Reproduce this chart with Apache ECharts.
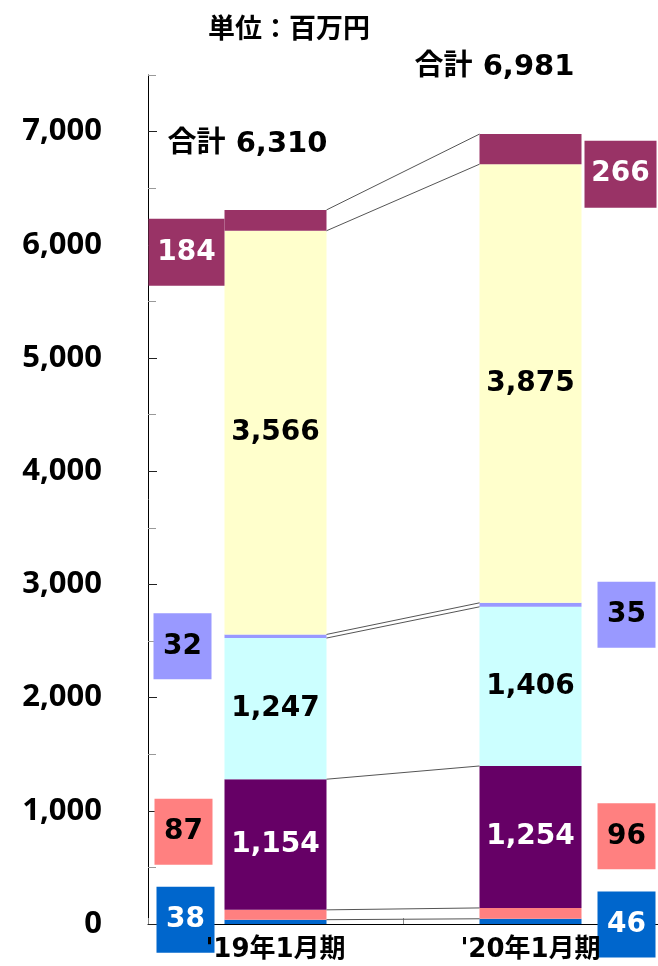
<!DOCTYPE html>
<html>
<head>
<meta charset="utf-8">
<script src="https://cdn.jsdelivr.net/npm/echarts@6/dist/echarts.min.js"></script>
<style>
html,body{margin:0;padding:0;background:#fff;}
#chart{width:658px;height:966px;}
</style>
</head>
<body>
<div id="chart"></div>
<script>
// ---- data ----
const categories = ["'19年1月期", "'20年1月期"];
const valBlue     = [38, 46];
const valSalmon   = [87, 96];
const valPurple   = [1154, 1254];
const valCyan     = [1247, 1406];
const valLavender = [32, 35];
const valYellow   = [3566, 3875];
const valMaroon   = [184, 266];
const totals      = [6310, 6981];
const unitText = '単位：百万円';
const totalPrefix = '合計 ';

// ---- styles ----
const FONT = '"DejaVu Sans", "Noto Sans CJK JP", sans-serif';
const AXFONT = '"Noto Sans", "Noto Sans CJK JP", sans-serif';
const FS = 28;
const fmt = v => v.toLocaleString('en-US');

const segments = [
  {name:'A', vals: valBlue,     color:'#0066CC', text:'#ffffff', inside:false,
   boxes:[{w:58,h:66,off:[-90,-2]}, {w:58,h:66,off:[96,3]}]},
  {name:'B', vals: valSalmon,   color:'#FF8080', text:'#000000', inside:false,
   boxes:[{w:58,h:66,off:[-92,-83]}, {w:58,h:66,off:[96,-77]}]},
  {name:'C', vals: valPurple,   color:'#660066', text:'#ffffff', inside:true},
  {name:'D', vals: valCyan,     color:'#CCFFFF', text:'#000000', inside:true},
  {name:'E', vals: valLavender, color:'#9999FF', text:'#000000', inside:false,
   boxes:[{w:58,h:66,off:[-93,10]}, {w:58,h:66,off:[96,10]}]},
  {name:'F', vals: valYellow,   color:'#FFFFCC', text:'#000000', inside:true},
  {name:'G', vals: valMaroon,   color:'#993366', text:'#ffffff', inside:false,
   boxes:[{w:76,h:67,off:[-89,32]}, {w:72,h:67,off:[90,25]}]}
];

const barSeries = segments.map(seg => ({
  name: seg.name,
  type: 'bar',
  stack: 'total',
  barWidth: 102,
  xAxisIndex: 0, yAxisIndex: 0,
  itemStyle: {color: seg.color},
  z: 2,
  data: seg.vals.map((v, i) => {
    const base = {
      show: true,
      position: 'inside',
      formatter: () => fmt(v),
      color: seg.text,
      fontFamily: FONT,
      fontWeight: 'bold',
      fontSize: FS
    };
    if (!seg.inside) {
      const b = seg.boxes[i];
      Object.assign(base, {
        backgroundColor: seg.color,
        width: b.w, height: b.h, lineHeight: b.h,
        align: 'center', verticalAlign: 'middle',
        padding: 0,
        offset: b.off
      });
    }
    return {value: v, label: base};
  })
}));

// cumulative boundaries for connector lines
const cum = [[], []];
[0, 1].forEach(ci => {
  let s = 0;
  segments.forEach(seg => { s += seg.vals[ci]; cum[ci].push(s); });
});
const connData = cum[0].map((v, i) => [0, v, cum[1][i]]);
const HALF = 51;

const option = {
  animation: false,
  backgroundColor: '#ffffff',
  title: {
    text: unitText,
    left: 203, top: 12,
    textStyle: {fontFamily: FONT, fontWeight: 'bold', fontSize: 27, color: '#000'}
  },
  grid: {left: 148, top: 75, bottom: 42, width: 516},
  xAxis: [{
    type: 'category',
    data: categories,
    z: 0,
    axisLine: {lineStyle: {color: '#000', width: 1}},
    axisTick: {show: true, inside: true, length: 6, lineStyle: {color: '#888'}},
    axisLabel: {show: false}
  }, {
    type: 'category',
    data: categories,
    position: 'bottom',
    z: 10,
    axisLine: {show: false},
    axisTick: {show: false},
    axisLabel: {fontFamily: FONT, fontWeight: 'bold', fontSize: 26, color: '#000', margin: 13}
  }],
  yAxis: [{
    type: 'value',
    min: 0, max: 7500, interval: 500,
    axisLine: {show: true, lineStyle: {color: '#000', width: 1}},
    axisTick: {show: true, inside: true, length: 8, lineStyle: {color: '#999'}},
    axisLabel: {
      fontFamily: AXFONT, fontWeight: 'bold', fontSize: 31, color: '#000', margin: 46,
      formatter: v => (v % 1000 === 0 && v <= 7000) ? fmt(v) : ''
    },
    splitLine: {show: false}
  }, {
    type: 'value',
    min: 0, max: 7500, interval: 500,
    position: 'left',
    axisLine: {show: false},
    axisTick: {show: true, inside: true, length: 9, lineStyle: {color: '#222'},
               customValues: [0, 1000, 2000, 3000, 4000, 5000, 6000, 7000]},
    axisLabel: {show: false},
    splitLine: {show: false}
  }],
  series: barSeries.concat([{
    type: 'custom',
    name: 'connectors',
    xAxisIndex: 0, yAxisIndex: 0,
    z: 3,
    encode: {x: 0, y: 1},
    data: connData,
    renderItem: (params, api) => {
      const p1 = api.coord([0, api.value(1)]);
      const p2 = api.coord([1, api.value(2)]);
      return {
        type: 'line',
        shape: {x1: p1[0] + HALF, y1: p1[1], x2: p2[0] - HALF, y2: p2[1]},
        style: {stroke: '#555', lineWidth: 1}
      };
    }
  }, {
    type: 'scatter',
    name: 'totals',
    xAxisIndex: 0, yAxisIndex: 0,
    symbolSize: 0,
    itemStyle: {opacity: 1},
    z: 4,
    data: totals.map((t, i) => ({
      value: [i, t],
      label: {
        show: true, position: 'inside',
        formatter: () => totalPrefix + fmt(t),
        fontFamily: FONT, fontWeight: 'bold', fontSize: 29, color: '#000', opacity: 1,
        offset: i === 0 ? [-28, -65] : [-36, -66]
      }
    }))
  }])
};

const chart = echarts.init(document.getElementById('chart'), null, {renderer: 'canvas'});
chart.setOption(option);
</script>
</body>
</html>
